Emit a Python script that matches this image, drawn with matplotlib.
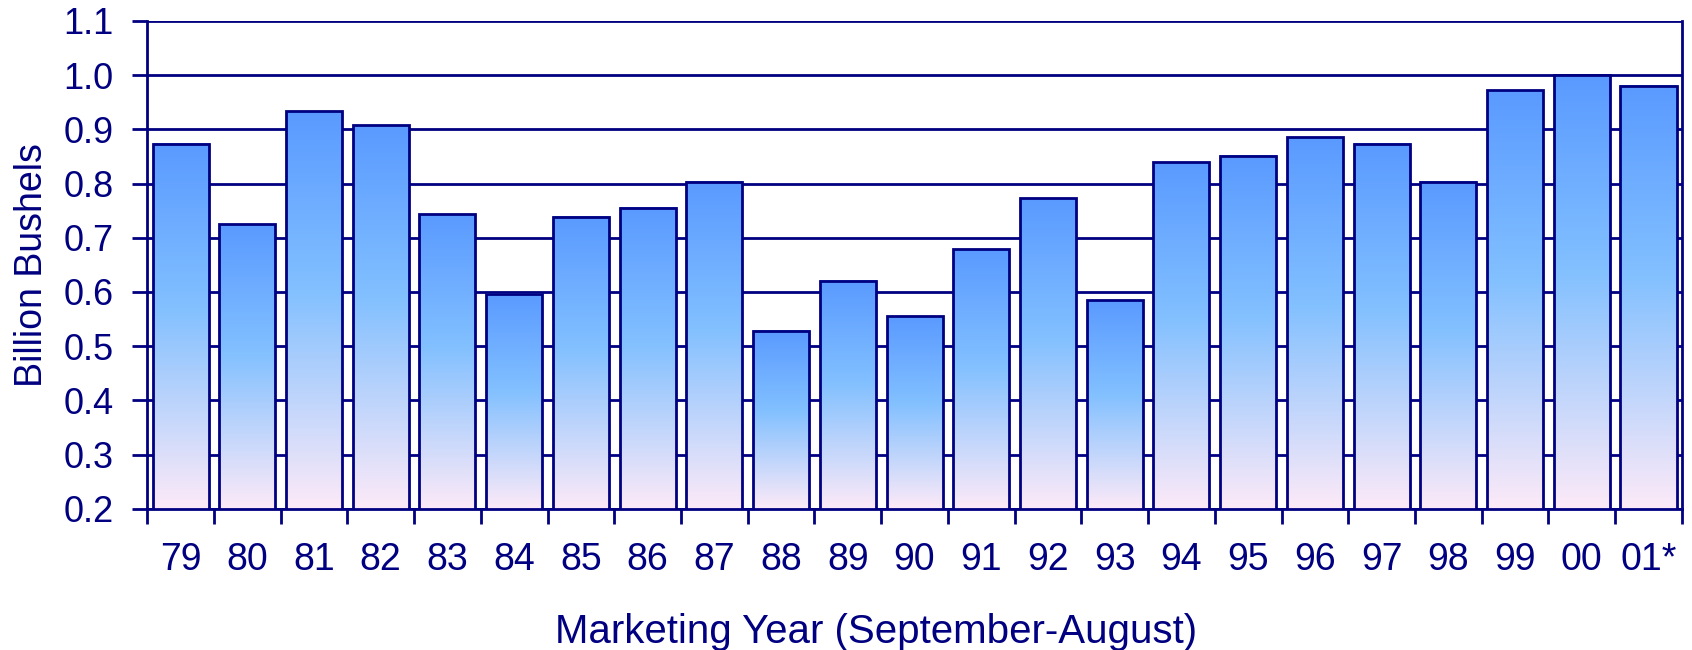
import numpy as np
import matplotlib
matplotlib.use('Agg')
import matplotlib.pyplot as plt
from matplotlib.colors import LinearSegmentedColormap

years = ['79', '80', '81', '82', '83', '84', '85', '86', '87', '88', '89', '90',
         '91', '92', '93', '94', '95', '96', '97', '98', '99', '00', '01*']
bushels = [0.873, 0.725, 0.933, 0.907, 0.743, 0.597, 0.739, 0.755, 0.803, 0.529,
           0.621, 0.555, 0.679, 0.773, 0.585, 0.839, 0.851, 0.885, 0.873, 0.803,
           0.972, 1.000, 0.980]
yticks = [0.2, 0.3, 0.4, 0.5, 0.6, 0.7, 0.8, 0.9, 1.0, 1.1]

navy = '#000080'
plt.rcParams['font.family'] = ['Liberation Sans', 'DejaVu Sans']

# gradient from bottom (pink) to top (blue)
grad = LinearSegmentedColormap.from_list(
    'bars', [(0.0, '#fdeaf8'), (0.55, '#82c0ff'), (1.0, '#5a9aff')])

fig = plt.figure(figsize=(16.92, 6.5), dpi=100)
ax = fig.add_axes([0.087, 0.217, 0.907, 0.751])

x = np.arange(len(years))
width = 0.84
ymin, ymax = 0.2, 1.1

bars = ax.bar(x, bushels, width=width, facecolor='none', edgecolor=navy,
              linewidth=2, zorder=3)
g = np.linspace(0, 1, 256).reshape(-1, 1)
for b in bars:
    x0 = b.get_x()
    h = b.get_height()
    ax.imshow(g, cmap=grad, origin='lower', aspect='auto', zorder=2,
              extent=(x0, x0 + width, ymin, h), interpolation='bilinear')

ax.set_xlim(-0.5, len(years) - 0.5)
ax.set_ylim(ymin, ymax)
ax.set_yticks(yticks)
ax.set_yticklabels([f'{t:.1f}' for t in yticks])
ax.set_xticks(x)
ax.set_xticklabels(years)
ax.set_xticks(np.arange(len(years) + 1) - 0.5, minor=True)

ax.yaxis.grid(True, color=navy, linewidth=2, zorder=1)
ax.set_axisbelow(True)

for s in ax.spines.values():
    s.set_color(navy)
    s.set_linewidth(2)
ax.spines['top'].set_visible(False)

ax.tick_params(axis='x', which='major', length=0, pad=24, labelsize=27, labelcolor=navy)
ax.tick_params(axis='x', which='minor', length=11, width=2, color=navy, direction='out')
ax.tick_params(axis='y', length=11, width=2, color=navy, direction='out', pad=13,
               labelsize=26, labelcolor=navy)

ax.set_ylabel('Billion Bushels', fontsize=27, color=navy, labelpad=10)
ax.set_xlabel('Marketing Year (September-August)', fontsize=29, color=navy, labelpad=25)
ax.xaxis.label.set_x(0.475)

fig.savefig('out.png', dpi=100)
